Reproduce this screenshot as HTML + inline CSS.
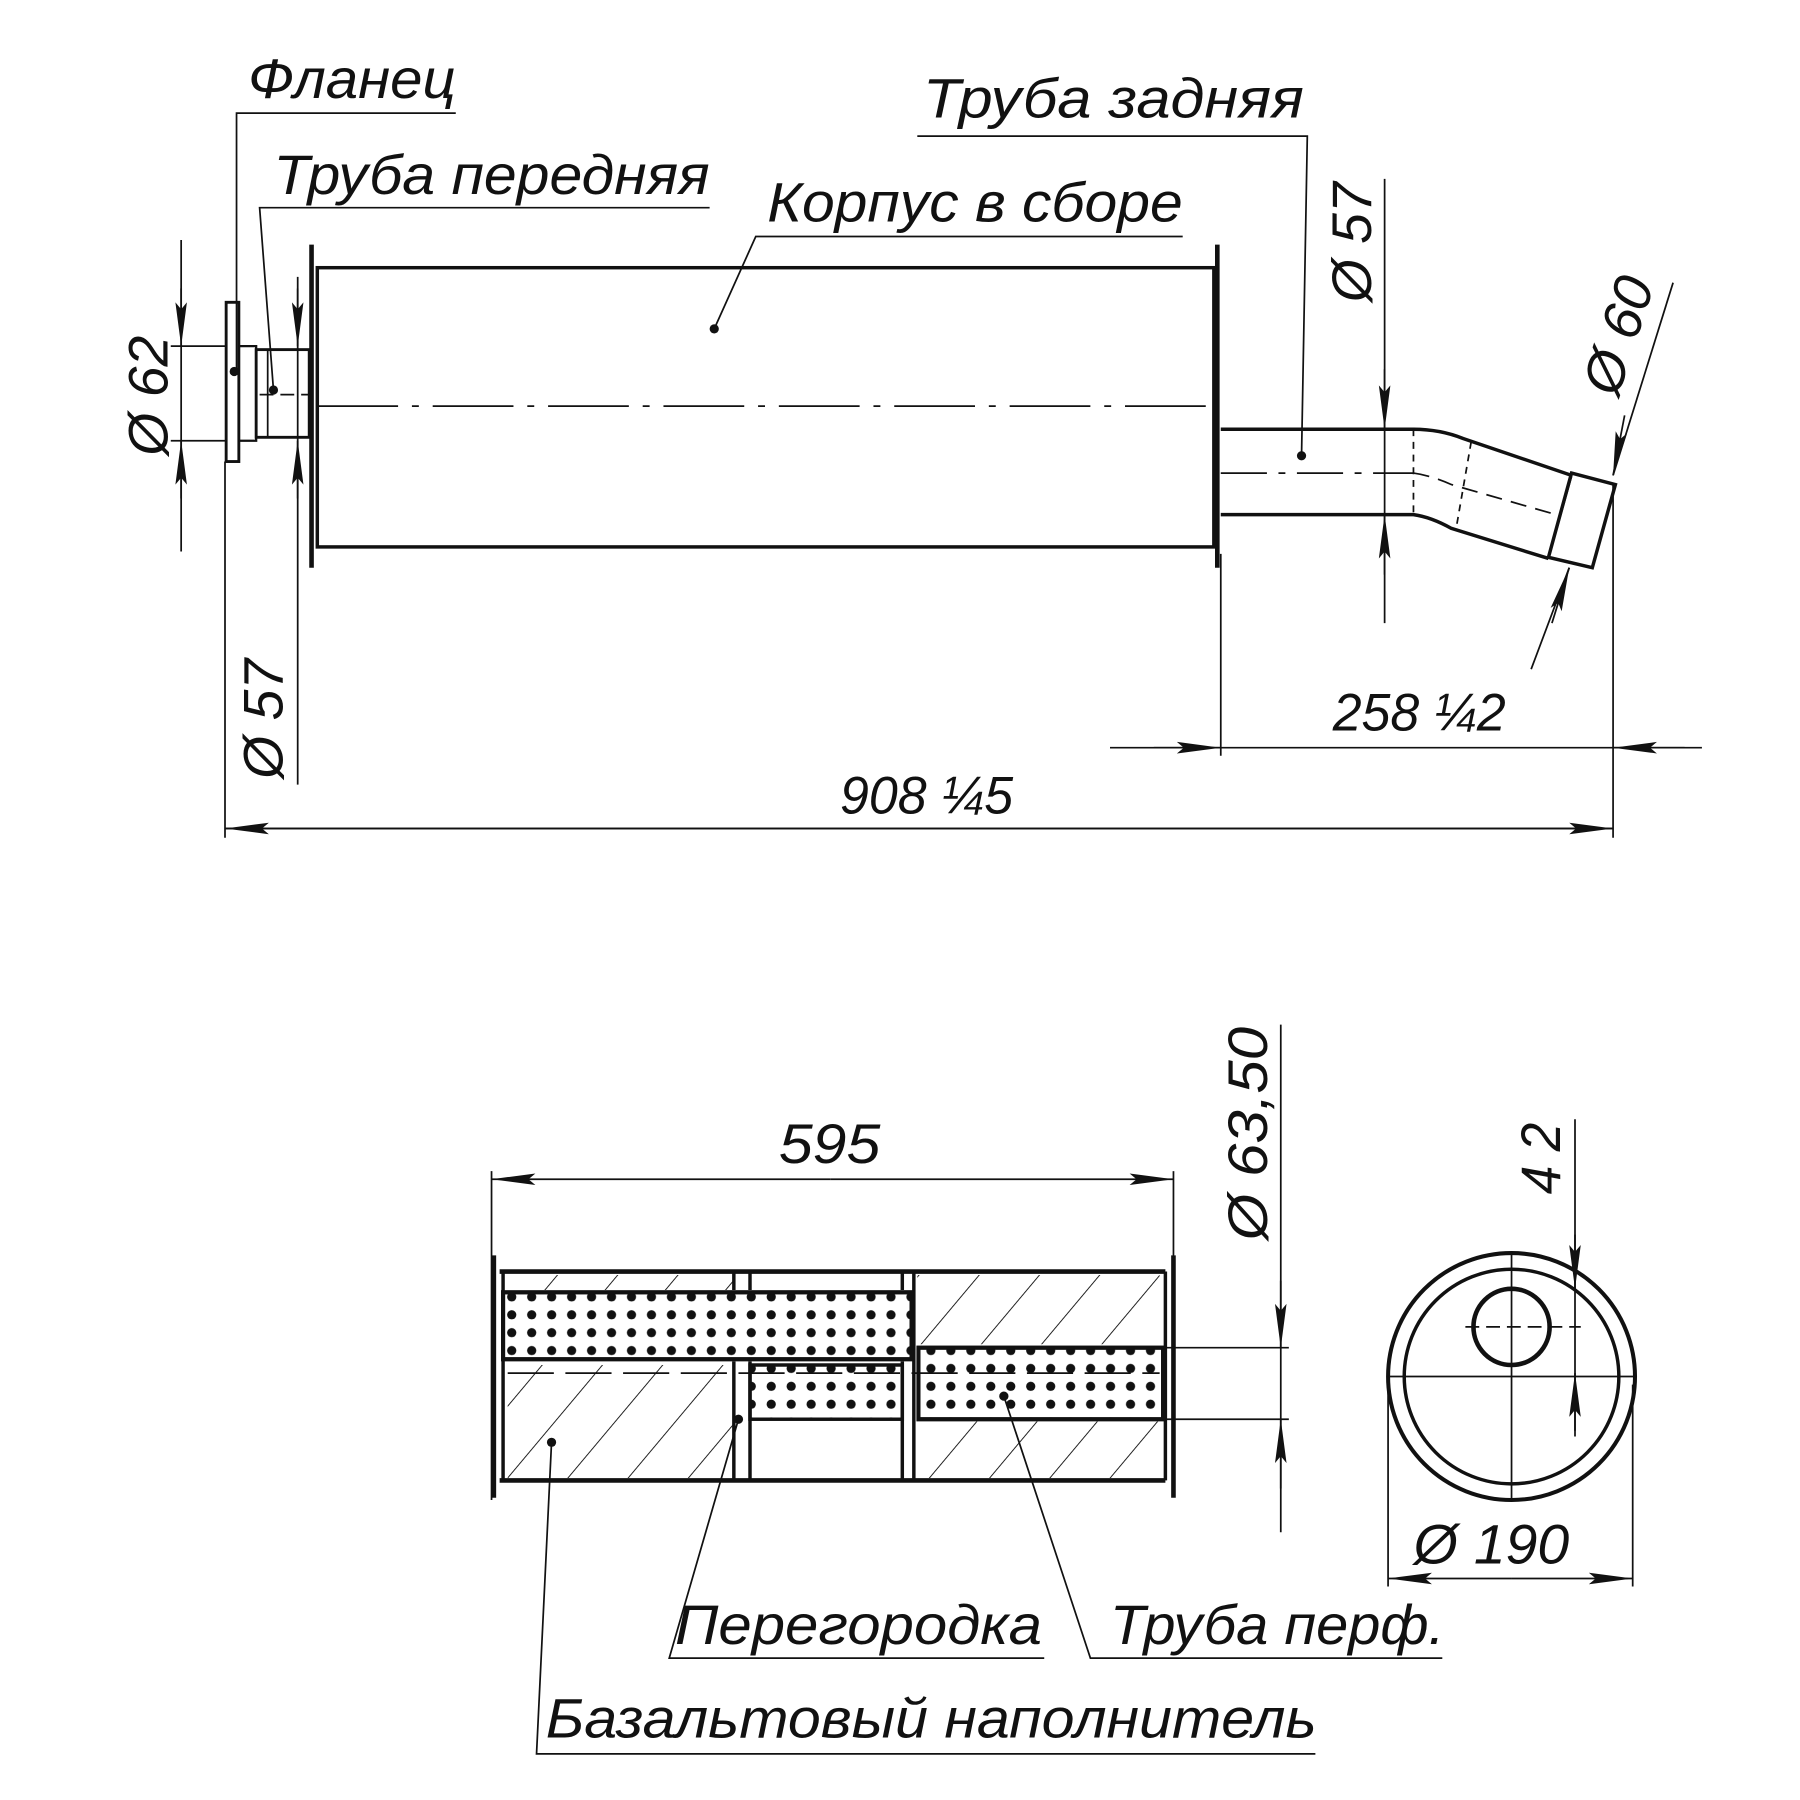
<!DOCTYPE html>
<html><head><meta charset="utf-8"><style>
html,body{margin:0;padding:0;background:#fff;}
svg{display:block;}
text{font-family:"Liberation Sans",sans-serif;font-style:italic;fill:#111;}
</style></head><body>
<svg width="1800" height="1800" viewBox="0 0 1560 1560" xmlns="http://www.w3.org/2000/svg">
<defs>
<pattern id="hatch" patternUnits="userSpaceOnUse" width="40" height="40" patternTransform="rotate(40)">
<line x1="0" y1="0" x2="0" y2="40" stroke="#111" stroke-width="1.6"/>
</pattern>
<pattern id="dots" patternUnits="userSpaceOnUse" width="17.3" height="15.5" x="3" y="0">
<circle cx="8" cy="8" r="4" fill="#111"/>
</pattern>
<marker id="ar" markerWidth="40" markerHeight="14" refX="38" refY="7" orient="auto" markerUnits="userSpaceOnUse">
<path d="M0,2 L38,7 L0,12 L6,7 Z" fill="#111"/>
</marker>
</defs>
<g stroke="#111" fill="none" stroke-width="1.5">
<!-- TOP VIEW body -->
<rect x="275" y="232" width="777" height="242" stroke-width="3"/>
<line x1="270" y1="212" x2="270" y2="492" stroke-width="4"/>
<line x1="1055" y1="212" x2="1055" y2="492" stroke-width="4"/>
<line x1="275" y1="352" x2="1050" y2="352" stroke-dasharray="70,12,6,12"/>
<!-- front pipe & flange -->
<rect x="196" y="262" width="11" height="138" stroke-width="2.5"/>
<path d="M207 300 L222 300 L222 382 L207 382" stroke-width="2"/>
<rect x="222" y="303" width="46" height="76" stroke-width="2.5"/>
<line x1="232" y1="303" x2="232" y2="379"/>
<line x1="225" y1="342" x2="268" y2="342" stroke-dasharray="12,6"/>
<!-- rear pipe -->
<path d="M1058 372 L1225 372 Q1248 372 1268 380 L1362 412" stroke-width="3"/>
<path d="M1058 446 L1225 446 Q1240 448 1258 458 L1342 484" stroke-width="3"/>
<line x1="1058" y1="410" x2="1225" y2="410" stroke-dasharray="40,10,6,10"/>
<path d="M1225 410 Q1240 412 1258 420 L1352 447" stroke-dasharray="14,8"/>
<line x1="1225" y1="372" x2="1225" y2="446" stroke-dasharray="6,5"/>
<line x1="1275" y1="383" x2="1262" y2="458" stroke-dasharray="6,5"/>
<path d="M1362 410 L1400 420 L1380 492 L1342 483 Z" stroke-width="3"/>
<line x1="1362" y1="413" x2="1342" y2="484"/>
<!-- leaders top -->
<path d="M205 322 L205 98 L395 98"/>
<path d="M237 338 L225 180 L615 180"/>
<path d="M619 285 L655 205 L1025 205"/>
<path d="M1128 395 L1133 118 L795 118"/>
</g>
<g fill="#111">
<circle cx="203" cy="322" r="4"/><circle cx="237" cy="338" r="4"/>
<circle cx="619" cy="285" r="4"/><circle cx="1128" cy="395" r="4"/>
</g>
<!-- dimensions top -->
<g stroke="#111" fill="none" stroke-width="1.5">
<line x1="157" y1="208" x2="157" y2="478"/>
<line x1="157" y1="250" x2="157" y2="300" marker-end="url(#ar)"/>
<line x1="157" y1="432" x2="157" y2="382" marker-end="url(#ar)"/>
<line x1="148" y1="300" x2="196" y2="300"/>
<line x1="148" y1="382" x2="196" y2="382"/>
<line x1="258" y1="240" x2="258" y2="680"/>
<line x1="258" y1="250" x2="258" y2="300" marker-end="url(#ar)"/>
<line x1="258" y1="432" x2="258" y2="382" marker-end="url(#ar)"/>
<line x1="1200" y1="155" x2="1200" y2="540"/>
<line x1="1200" y1="320" x2="1200" y2="372" marker-end="url(#ar)"/>
<line x1="1200" y1="498" x2="1200" y2="446" marker-end="url(#ar)"/>
<line x1="1450" y1="245" x2="1398" y2="412"/>
<line x1="1408" y1="360" x2="1398" y2="412" marker-end="url(#ar)"/>
<line x1="1327" y1="580" x2="1360" y2="492"/>
<line x1="1345" y1="540" x2="1360" y2="492" marker-end="url(#ar)"/>
<line x1="195" y1="400" x2="195" y2="726"/>
<line x1="1398" y1="420" x2="1398" y2="726"/>
<line x1="1058" y1="480" x2="1058" y2="655"/>
<line x1="195" y1="718" x2="1398" y2="718"/>
<line x1="800" y1="718" x2="195" y2="718" marker-end="url(#ar)"/>
<line x1="800" y1="718" x2="1398" y2="718" marker-end="url(#ar)"/>
<line x1="962" y1="648" x2="1475" y2="648"/>
<line x1="1000" y1="648" x2="1058" y2="648" marker-end="url(#ar)"/>
<line x1="1460" y1="648" x2="1398" y2="648" marker-end="url(#ar)"/>
</g>
<!-- text top -->
<text x="215" y="85" font-size="48" textLength="180" lengthAdjust="spacingAndGlyphs">Фланец</text>
<text x="237" y="168" font-size="48" textLength="378" lengthAdjust="spacingAndGlyphs">Труба передняя</text>
<text x="665" y="192" font-size="48" textLength="360" lengthAdjust="spacingAndGlyphs">Корпус в сборе</text>
<text x="800" y="102" font-size="48" textLength="330" lengthAdjust="spacingAndGlyphs">Труба задняя</text>
<text x="728" y="705" font-size="46" textLength="150" lengthAdjust="spacingAndGlyphs">908 ¼5</text>
<text x="1155" y="633" font-size="46" textLength="150" lengthAdjust="spacingAndGlyphs">258 ¼2</text>
<text transform="translate(145,395) rotate(-90)" font-size="48">Ø 62</text>
<text transform="translate(245,675) rotate(-90)" font-size="48">Ø 57</text>
<text transform="translate(1188,262) rotate(-90)" font-size="48">Ø 57</text>
<text transform="translate(1402,345) rotate(-72)" font-size="48">Ø 60</text>

<!-- BOTTOM VIEW -->
<g stroke="#111" fill="none" stroke-width="1.5">
<rect x="440" y="1105" width="196" height="13" fill="url(#hatch)" stroke="none"/>
<rect x="795" y="1105" width="210" height="60" fill="url(#hatch)" stroke="none"/>
<rect x="440" y="1183" width="196" height="98" fill="url(#hatch)" stroke="none"/>
<rect x="795" y="1232" width="210" height="49" fill="url(#hatch)" stroke="none"/>
<line x1="436" y1="1102" x2="436" y2="1283" stroke-width="3"/>
<line x1="1010" y1="1102" x2="1010" y2="1283" stroke-width="3"/>
<line x1="636" y1="1102" x2="636" y2="1118" stroke-width="3"/>
<line x1="650" y1="1102" x2="650" y2="1118" stroke-width="3"/>
<line x1="636" y1="1180" x2="636" y2="1283" stroke-width="3"/>
<line x1="650" y1="1180" x2="650" y2="1283" stroke-width="3"/>
<line x1="782" y1="1102" x2="782" y2="1118" stroke-width="3"/>
<line x1="782" y1="1180" x2="782" y2="1283" stroke-width="3"/>
<line x1="792" y1="1102" x2="792" y2="1283" stroke-width="3"/>
<rect x="436" y="1120" width="354" height="58" fill="#fff" stroke-width="3.5"/>
<rect x="436" y="1120" width="354" height="58" fill="url(#dots)" stroke-width="3.5"/>
<rect x="796" y="1168" width="212" height="62" fill="#fff" stroke-width="3.5"/>
<rect x="796" y="1168" width="212" height="62" fill="url(#dots)" stroke-width="3.5"/>
<rect x="650" y="1183" width="132" height="47" fill="url(#dots)" stroke-width="3"/>
<line x1="433" y1="1102" x2="1010" y2="1102" stroke-width="4"/>
<line x1="433" y1="1283" x2="1010" y2="1283" stroke-width="4"/>
<line x1="428" y1="1088" x2="428" y2="1298" stroke-width="4"/>
<line x1="1017" y1="1088" x2="1017" y2="1298" stroke-width="4"/>
<line x1="440" y1="1190" x2="1005" y2="1190" stroke-dasharray="40,10"/>
<!-- dims -->
<line x1="426" y1="1015" x2="426" y2="1300"/>
<line x1="1017" y1="1015" x2="1017" y2="1090"/>
<line x1="720" y1="1022" x2="426" y2="1022" marker-end="url(#ar)"/>
<line x1="720" y1="1022" x2="1017" y2="1022" marker-end="url(#ar)"/>
<line x1="1110" y1="888" x2="1110" y2="1328"/>
<line x1="1110" y1="1110" x2="1110" y2="1168" marker-end="url(#ar)"/>
<line x1="1110" y1="1290" x2="1110" y2="1230" marker-end="url(#ar)"/>
<line x1="1010" y1="1168" x2="1117" y2="1168"/>
<line x1="1010" y1="1230" x2="1117" y2="1230"/>
<!-- end view -->
<circle cx="1310" cy="1193" r="107" stroke-width="3.5"/>
<circle cx="1310" cy="1193" r="93" stroke-width="3"/>
<circle cx="1310" cy="1150" r="33" stroke-width="4"/>
<line x1="1203" y1="1193" x2="1417" y2="1193"/>
<line x1="1310" y1="1085" x2="1310" y2="1300"/>
<line x1="1270" y1="1150" x2="1370" y2="1150" stroke-dasharray="12,6"/>
<line x1="1365" y1="970" x2="1365" y2="1245"/>
<line x1="1365" y1="1070" x2="1365" y2="1117" marker-end="url(#ar)"/>
<line x1="1365" y1="1240" x2="1365" y2="1190" marker-end="url(#ar)"/>
<line x1="1203" y1="1200" x2="1203" y2="1375"/>
<line x1="1415" y1="1200" x2="1415" y2="1375"/>
<line x1="1310" y1="1368" x2="1203" y2="1368" marker-end="url(#ar)"/>
<line x1="1310" y1="1368" x2="1415" y2="1368" marker-end="url(#ar)"/>
<!-- leaders -->
<path d="M640 1230 L580 1437 L905 1437"/>
<path d="M870 1210 L945 1437 L1250 1437"/>
<path d="M478 1250 L465 1520 L1140 1520"/>
</g>
<g fill="#111"><circle cx="640" cy="1230" r="4"/><circle cx="870" cy="1210" r="4"/><circle cx="478" cy="1250" r="4"/></g>
<text x="675" y="1008" font-size="48" textLength="88" lengthAdjust="spacingAndGlyphs">595</text>
<text transform="translate(1098,1075) rotate(-90)" font-size="48" textLength="185" lengthAdjust="spacingAndGlyphs">Ø 63,50</text>
<text transform="translate(1352,1035) rotate(-90)" font-size="48" textLength="62" lengthAdjust="spacingAndGlyphs">4 2</text>
<text x="1225" y="1355" font-size="48" textLength="135" lengthAdjust="spacingAndGlyphs">Ø 190</text>
<text x="585" y="1425" font-size="48" textLength="318" lengthAdjust="spacingAndGlyphs">Перегородка</text>
<text x="962" y="1425" font-size="48" textLength="290" lengthAdjust="spacingAndGlyphs">Труба перф.</text>
<text x="473" y="1506" font-size="48" textLength="668" lengthAdjust="spacingAndGlyphs">Базальтовый наполнитель</text>
</svg>
</body></html>
